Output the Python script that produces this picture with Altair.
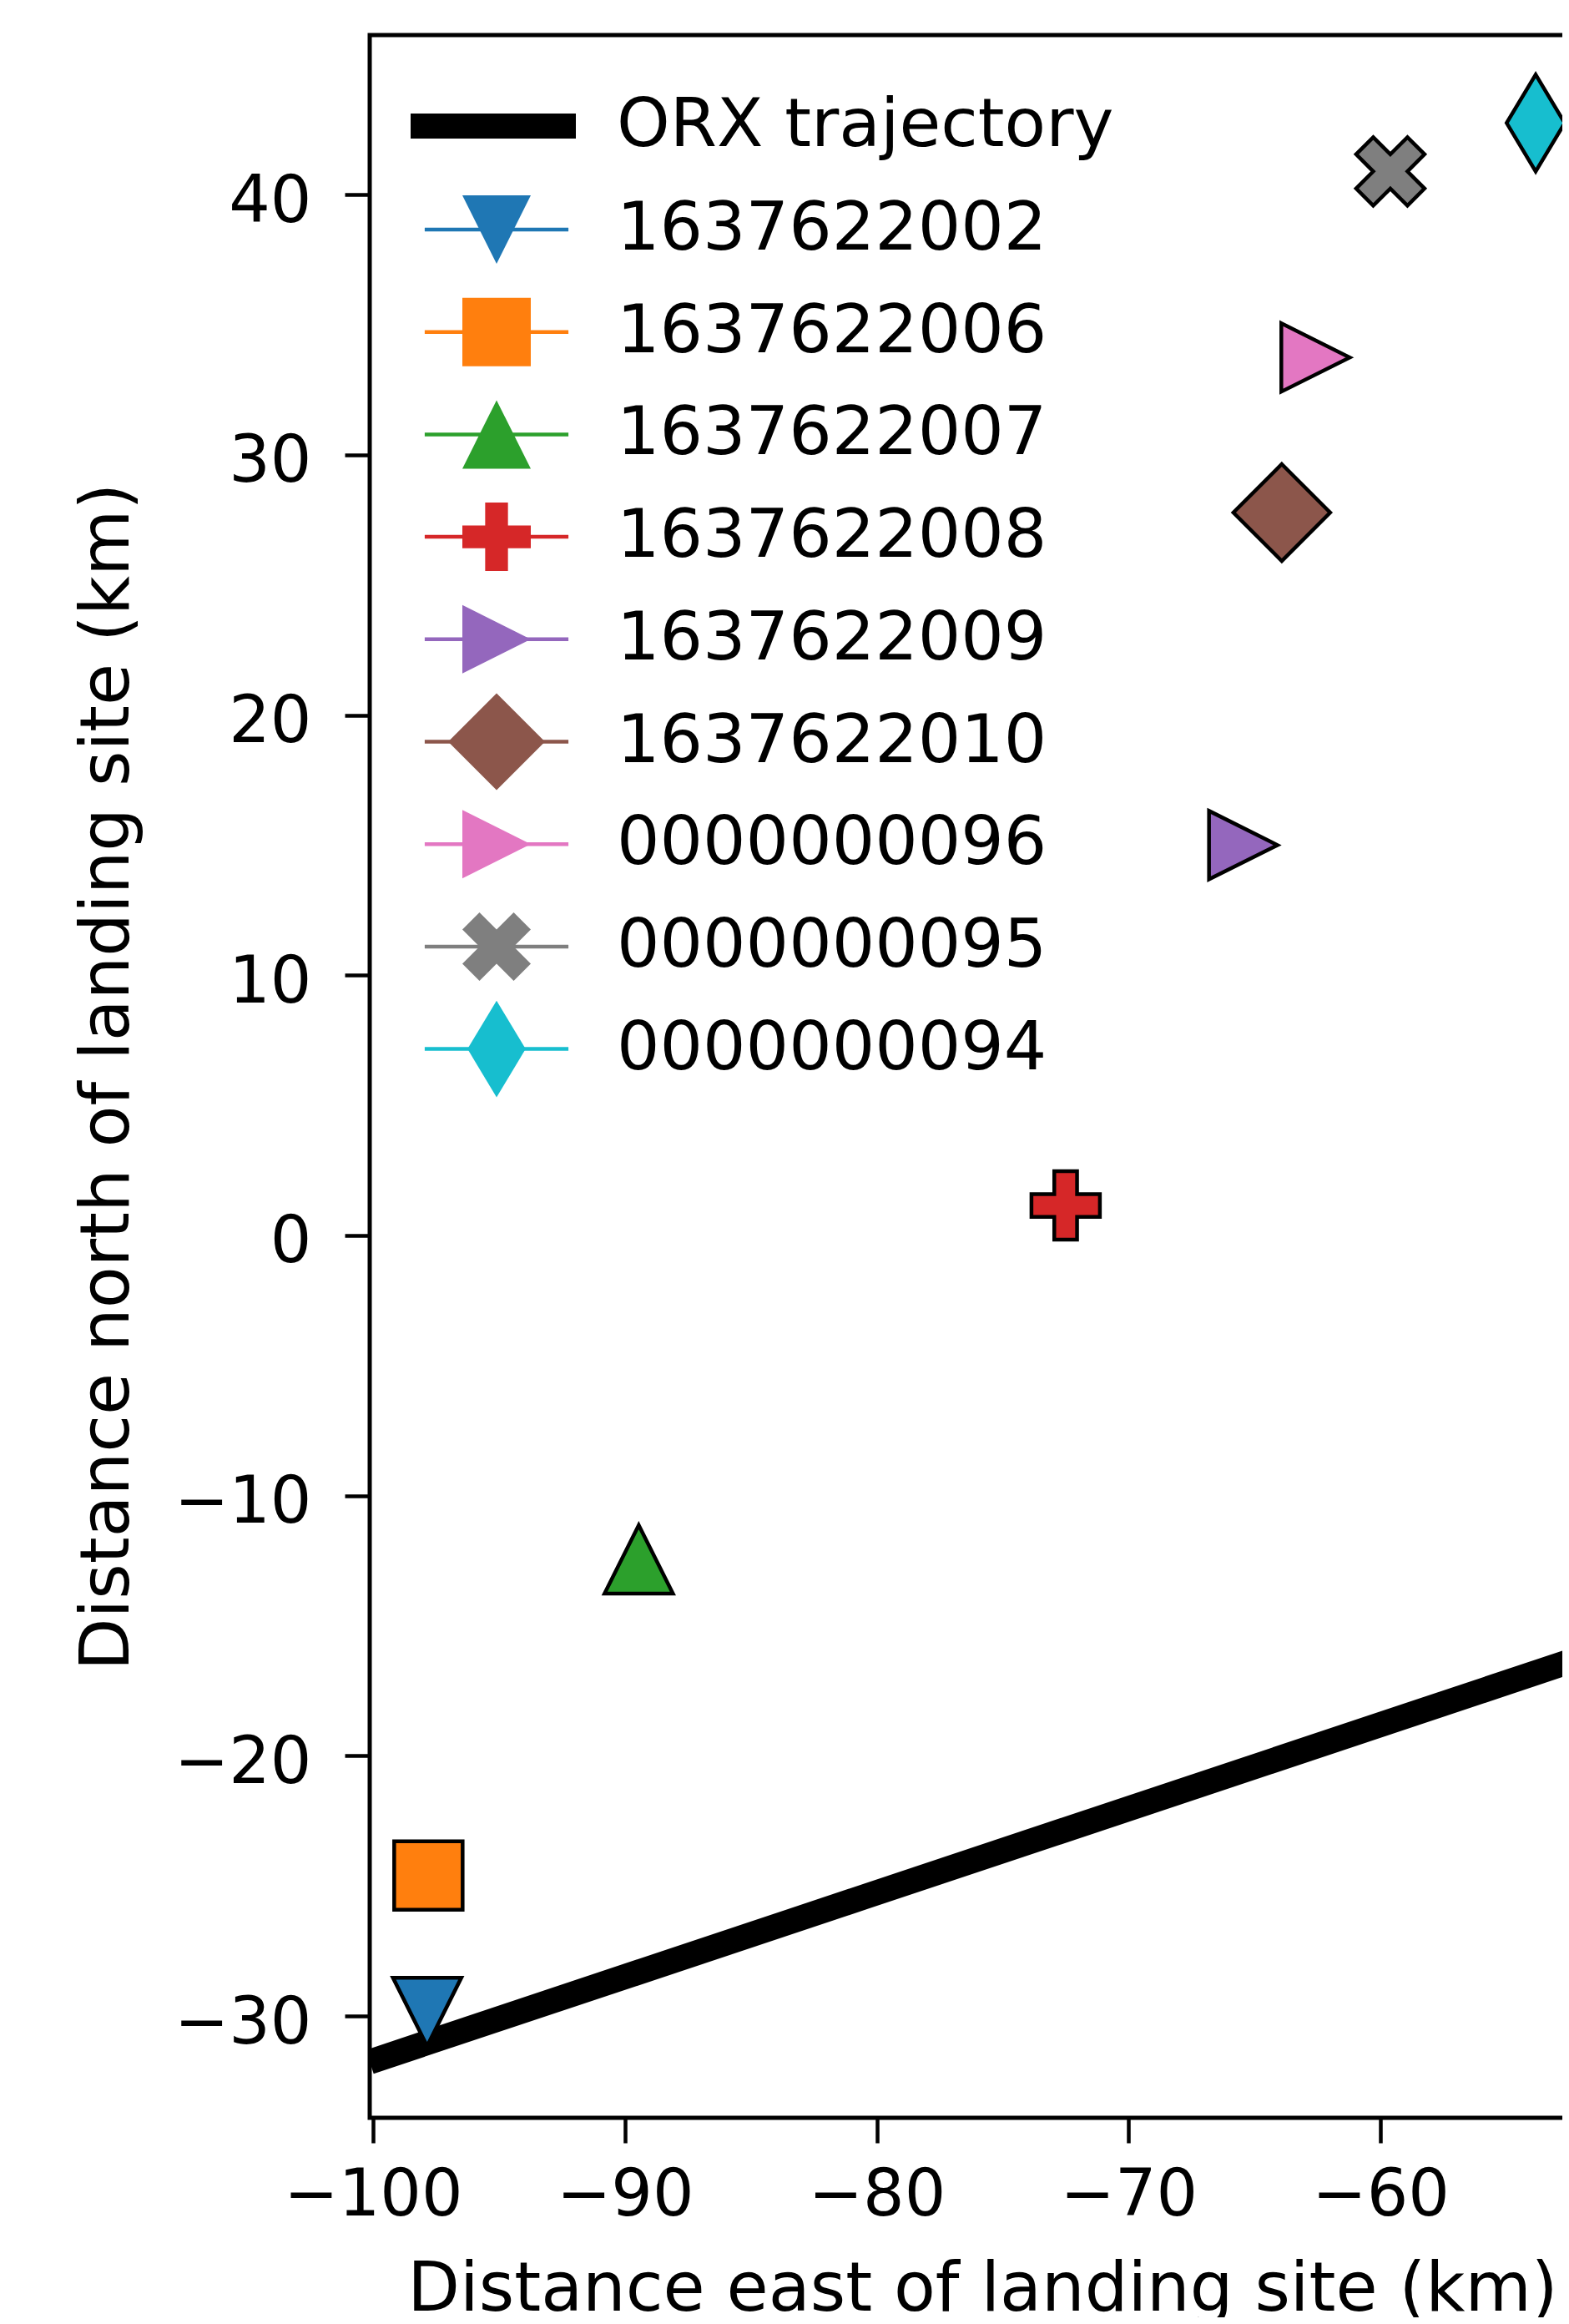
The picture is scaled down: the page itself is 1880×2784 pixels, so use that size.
import altair as alt
import pandas as pd

# ---------------- data ----------------
stations = ["1637622002", "1637622006", "1637622007", "1637622008", "1637622009",
            "1637622010", "0000000096", "0000000095", "0000000094"]
east_km = [-97.85, -97.80, -89.45, -72.50, -65.45, -63.92, -62.58, -59.61, -53.84]
north_km = [-29.84, -24.60, -12.45, 1.15, 15.00, 27.78, 33.74, 40.89, 42.75]
colors = ["#1f77b4", "#ff7f0e", "#2ca02c", "#d62728", "#9467bd",
          "#8c564b", "#e377c2", "#7f7f7f", "#17becf"]

traj_label = "ORX trajectory"
traj_east = [-100.13, -51.49]
traj_north = [-31.76, -16.05]

x_ticks = [-100, -90, -80, -70, -60, -50]
y_ticks = [-30, -20, -10, 0, 10, 20, 30, 40]
x_domain = [-100.13, -51.49]
y_domain = [-33.91, 46.13]

# ---------------- marker shapes (matplotlib-like) ----------------
BOX = "M0,-1.414M0,1.414"
marker_paths = [
    BOX + "M-1,-1L1,-1L0,1Z",                      # v
    BOX + "M-1,-1L1,-1L1,1L-1,1Z",                 # s
    BOX + "M0,-1L1,1L-1,1Z",                       # ^
    BOX + "M-0.333,-1L0.333,-1L0.333,-0.333L1,-0.333L1,0.333L0.333,0.333"
          "L0.333,1L-0.333,1L-0.333,0.333L-1,0.333L-1,-0.333L-0.333,-0.333Z",  # P
    BOX + "M-1,-1L1,0L-1,1Z",                      # >
    BOX + "M0,-1.414L1.414,0L0,1.414L-1.414,0Z",   # D
    BOX + "M-1,-1L1,0L-1,1Z",                      # >
    BOX + "M-0.5,-1L0,-0.5L0.5,-1L1,-0.5L0.5,0L1,0.5L0.5,1L0,0.5L-0.5,1"
          "L-1,0.5L-0.5,0L-1,-0.5Z",               # X
    BOX + "M0,-1.414L0.849,0L0,1.414L-0.849,0Z",   # d
]
line_symbol = BOX + "M-2.1,0L2.1,0"

stations_l = [s + " " for s in stations]

pts = pd.DataFrame({"station": stations, "station_l": stations_l,
                    "east": east_km, "north": north_km})
traj = pd.DataFrame({"name": [traj_label] * len(traj_east),
                     "east": traj_east, "north": traj_north})

FONT = "DejaVu Sans"
TICK_FS = 78
TITLE_FS = 81.5
LEG_FS = 81
SW = 4.5
MSIZE = 6724
ROWPAD = -12.3
LEG_X = 108.5
LEG_Y = 189.5
LAB_OFF = 100.5

xscale = alt.Scale(domain=x_domain, nice=False, zero=False)
yscale = alt.Scale(domain=y_domain, nice=False, zero=False)

xaxis = alt.Axis(values=x_ticks, format="d", title="Distance east of landing site (km)",
                 grid=False, domain=False, tickSize=30, tickWidth=4.5, tickColor="black",
                 labelFont=FONT, labelFontSize=TICK_FS, labelColor="black", labelLimit=1000,
                 labelPadding=24, labelFlush=False, labelOverlap=False,
                 titleFont=FONT, titleFontSize=TITLE_FS, titleFontWeight="normal",
                 titleColor="black", titleBaseline="alphabetic", titleY=230, titleLimit=3000)
yaxis = alt.Axis(values=y_ticks, format="d", title="Distance north of landing site (km)",
                 grid=False, domain=False, tickSize=30, tickWidth=4.5, tickColor="black",
                 labelFont=FONT, labelFontSize=TICK_FS, labelColor="black", labelLimit=1000,
                 labelPadding=40, labelOffset=9, labelFlush=False, labelOverlap=False,
                 titleFont=FONT, titleFontSize=TITLE_FS, titleFontWeight="normal",
                 titleColor="black", titleBaseline="alphabetic", titleAngle=270,
                 titleAlign="center", titleX=-290, titleY=1247.5, titleLimit=3000)

traj_layer = alt.Chart(traj).mark_line(strokeWidth=30, strokeCap="butt", clip=True).encode(
    x=alt.X("east:Q", scale=xscale, axis=xaxis),
    y=alt.Y("north:Q", scale=yscale, axis=yaxis),
    stroke=alt.Stroke("name:N", scale=alt.Scale(domain=[traj_label], range=["black"]),
                      legend=alt.Legend(title=None, orient="none", legendX=34, legendY=-5,
                                        symbolType="stroke", symbolSize=39204,
                                        symbolStrokeWidth=30, labelOffset=34,
                                        direction="vertical")),
)

line_layer = alt.Chart(pts).mark_line(strokeWidth=SW).encode(
    x=alt.X("east:Q", scale=xscale),
    y=alt.Y("north:Q", scale=yscale),
    color=alt.Color("station_l:N", scale=alt.Scale(domain=stations_l, range=colors),
                    legend=alt.Legend(title=None, orient="none", legendX=LEG_X, legendY=LEG_Y,
                                      symbolType=line_symbol, symbolSize=MSIZE,
                                      symbolStrokeWidth=SW, labelColor="transparent",
                                      labelOffset=LAB_OFF, rowPadding=ROWPAD,
                                      direction="vertical", columns=1)),
)

marker_legend = alt.Legend(title=None, orient="none", legendX=LEG_X, legendY=LEG_Y,
                           symbolSize=MSIZE, symbolStrokeWidth=SW, symbolStrokeColor="black",
                           labelOffset=LAB_OFF, rowPadding=ROWPAD, direction="vertical",
                           columns=1)

point_layer = alt.Chart(pts).mark_point(filled=True, size=MSIZE, stroke="black",
                                         strokeWidth=SW, opacity=1).encode(
    x=alt.X("east:Q", scale=xscale),
    y=alt.Y("north:Q", scale=yscale),
    fill=alt.Fill("station:N", scale=alt.Scale(domain=stations, range=colors),
                  legend=marker_legend),
    shape=alt.Shape("station:N", scale=alt.Scale(domain=stations, range=marker_paths),
                    legend=marker_legend),
)

chart = alt.layer(traj_layer, line_layer, point_layer).properties(
    width=1468, height=2495,
    autosize=alt.AutoSizeParams(type="none"),
    padding={"left": 435, "top": 34, "right": -39, "bottom": 239},
    background="white",
).configure_view(
    stroke="black", strokeWidth=5
).configure_legend(
    labelFont=FONT, labelFontSize=LEG_FS, labelColor="black", labelLimit=2000,
    padding=0, gridAlign="all", symbolOpacity=1
)

chart.save("out.html", embed_options={"renderer": "svg", "actions": False})
